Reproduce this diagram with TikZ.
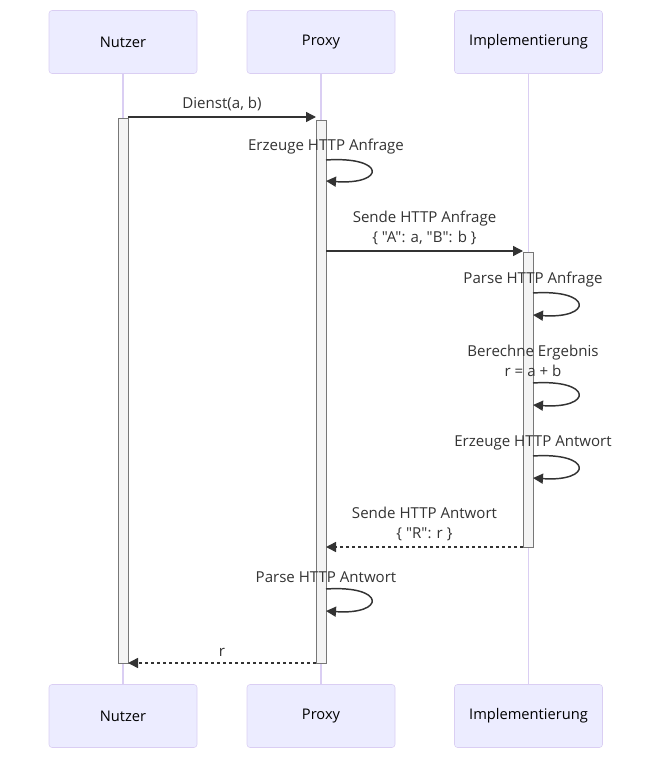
\documentclass[tikz,border=0pt]{standalone}
\usepackage{fontspec}
\setmainfont{Open Sans}[Ligatures=TeXOff]
\usetikzlibrary{arrows.meta}
\definecolor{actorfill}{HTML}{ECECFF}
\definecolor{actorline}{HTML}{DACEF3}
\definecolor{msgcol}{HTML}{333333}
\definecolor{actfill}{HTML}{F4F4F4}
\definecolor{actdraw}{HTML}{777777}

\begin{document}
\begin{tikzpicture}[
			x=0.75pt, y=-0.75pt,
			>={Triangle[length=7.5pt, width=7.5pt]},
			actor/.style={rectangle, draw=actorline, fill=actorfill, rounded corners=2.25pt, minimum width=111pt, minimum height=47.25pt, font=\fontsize{11}{13}\selectfont, text=black},
			lifeline/.style={draw=actorline, line width=1pt},
			actbar/.style={draw=actdraw, fill=actfill, line width=0.75pt},
			msg/.style={->, draw=msgcol, line width=1.1pt},
			reply/.style={msg, dash pattern=on 2.25pt off 2.25pt},
			msg_text/.style={font=\fontsize{11.3}{15}\selectfont, text=msgcol, align=center, inner sep=0pt}
			]
			\useasboundingbox (0,0) rectangle (667,768);
			
			% Actors (top row)
			\node[actor] (nutzer_top) at (123, 42) {Nutzer};
			\node[actor] (proxy_top) at (321, 42) {Proxy};
			\node[actor] (impl_top) at (528.5, 42) {Implementierung};
			
			% Actors (bottom row)
			\node[actor] (nutzer_bot) at (123, 716) {Nutzer};
			\node[actor] (proxy_bot) at (321, 716) {Proxy};
			\node[actor] (impl_bot) at (528.5, 716) {Implementierung};
			
			% Lifelines
			\draw[lifeline] (nutzer_top) -- (nutzer_bot);
			\draw[lifeline] (proxy_top) -- (proxy_bot);
			\draw[lifeline] (impl_top) -- (impl_bot);
			
			% Activation bars
			\draw[actbar] (118, 118) rectangle (128, 663);
			\draw[actbar] (316, 120) rectangle (326, 663);
			\draw[actbar] (523, 252) rectangle (533, 547);
			
			% Message end points
			\coordinate (dienst_s) at (128, 117);
			\coordinate (dienst_e) at (316, 117);
			\coordinate (anfrage_s) at (326, 251);
			\coordinate (anfrage_e) at (523, 251);
			\coordinate (antwort_s) at (523, 547);
			\coordinate (antwort_e) at (326, 547);
			\coordinate (r_s) at (316, 663);
			\coordinate (r_e) at (128, 663);
			
			% Self calls
			\coordinate (erz_anf_s) at (326, 160);
			\coordinate (erz_anf_e) at (326, 181);
			\coordinate (parse_anf_s) at (533, 293);
			\coordinate (parse_anf_e) at (533, 315);
			\coordinate (berechne_s) at (533, 383);
			\coordinate (berechne_e) at (533, 405);
			\coordinate (erz_ant_s) at (533, 456);
			\coordinate (erz_ant_e) at (533, 478);
			\coordinate (parse_ant_s) at (326, 589);
			\coordinate (parse_ant_e) at (326, 611);
			
			% Calls
			\draw[msg] (dienst_s) -- node[msg_text, above=4pt] {Dienst(a, b)} (dienst_e);
			\draw[msg] (anfrage_s) -- node[msg_text, above=4pt] {Sende HTTP Anfrage\\\{ "A": a, "B": b \}} (anfrage_e);
			
			% Replies
			\draw[reply] (antwort_s) -- node[msg_text, above=4pt] {Sende HTTP Antwort\\\{ "R": r \}} (antwort_e);
			\draw[reply] (r_s) -- node[msg_text, above=4pt] {r} (r_e);
			
			% Self calls
			\draw[msg] (erz_anf_s) node[msg_text, above=4pt] {Erzeuge HTTP Anfrage} .. controls (386, 156) and (386, 185) .. (erz_anf_e);
			\draw[msg] (parse_anf_s) node[msg_text, above=4pt] {Parse HTTP Anfrage} .. controls (593, 289) and (593, 319) .. (parse_anf_e);
			\draw[msg] (berechne_s) node[msg_text, above=4pt] {Berechne Ergebnis\\r = a + b} .. controls (593, 379) and (593, 409) .. (berechne_e);
			\draw[msg] (erz_ant_s) node[msg_text, above=4pt] {Erzeuge HTTP Antwort} .. controls (593, 452) and (593, 482) .. (erz_ant_e);
			\draw[msg] (parse_ant_s) node[msg_text, above=4pt] {Parse HTTP Antwort} .. controls (386, 585) and (386, 615) .. (parse_ant_e);
			
		\end{tikzpicture}
\end{document}
